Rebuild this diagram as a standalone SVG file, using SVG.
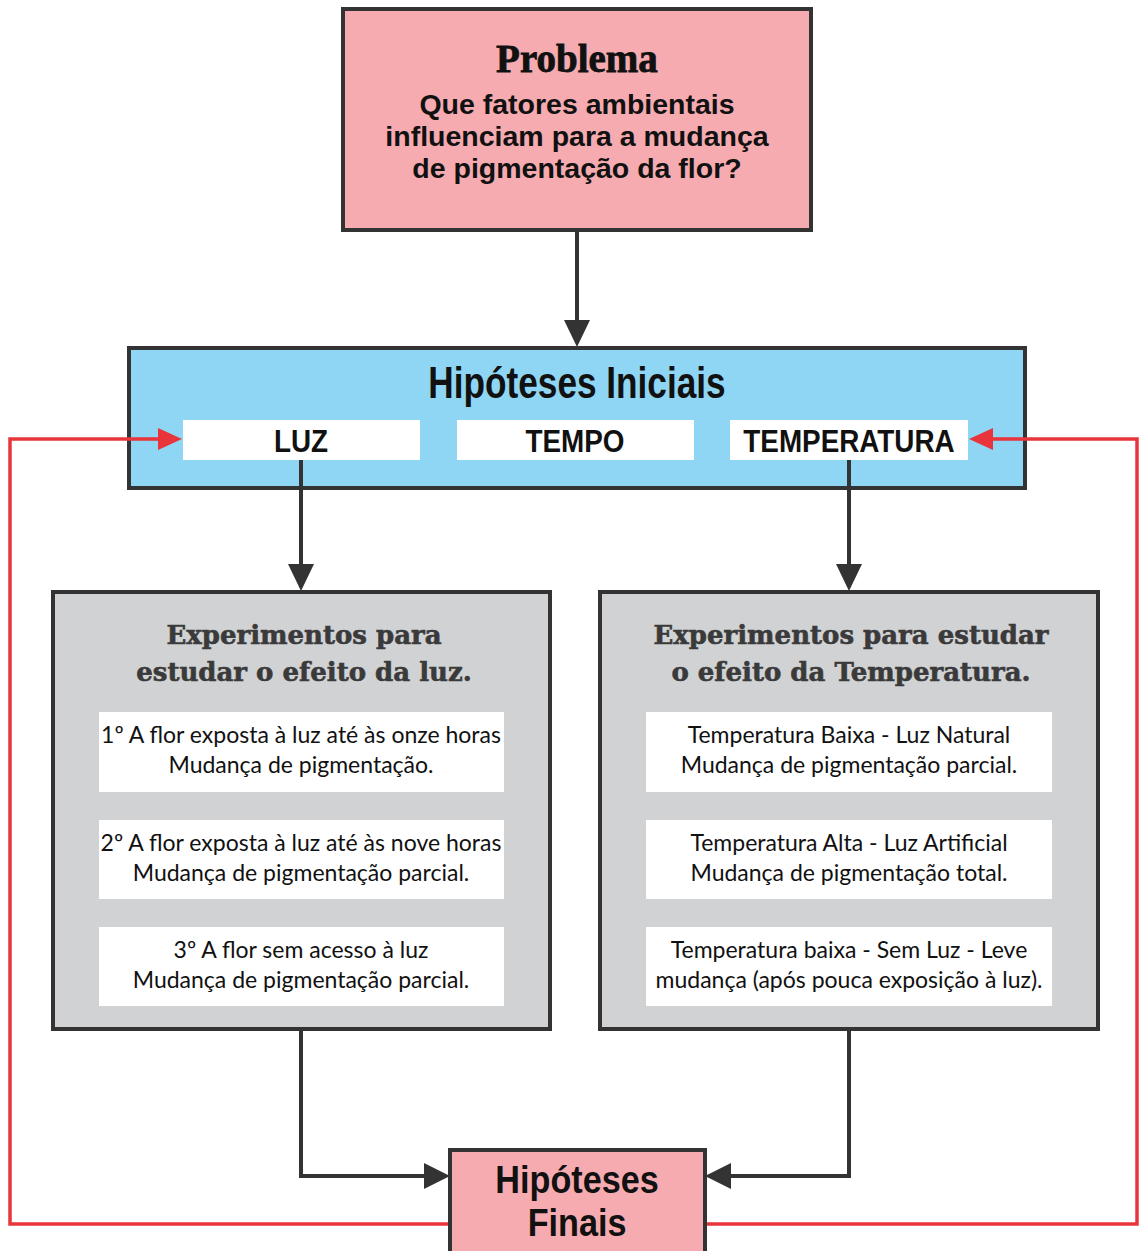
<svg xmlns="http://www.w3.org/2000/svg" width="1139" height="1251" viewBox="0 0 1139 1251">
<style>
.box{stroke:#333;stroke-width:4}
.pink{fill:#f6abb0}
.blue{fill:#8fd6f4}
.gray{fill:#d1d2d4}
.white{fill:#fff}
.cond{font-family:"Liberation Sans",Arial,sans-serif;font-weight:bold;fill:#111;text-anchor:middle}
.q{font-family:"Liberation Sans",Arial,sans-serif;font-weight:bold;font-size:28.5px;fill:#111;text-anchor:middle}
.slab{font-family:"DejaVu Serif",serif;font-weight:bold;font-size:26px;fill:#3a3a3a;stroke:#3a3a3a;stroke-width:0.6;text-anchor:middle}
.body{font-family:"Lato","Open Sans",sans-serif;font-size:23px;fill:#111;text-anchor:middle}
.conn{fill:none;stroke:#333;stroke-width:4}
.red{fill:none;stroke:#e8343a;stroke-width:3.5}
</style>
<g id="problema">
<rect class="box pink" x="343" y="9" width="468" height="221"/>
<text x="577" y="72" font-family="Liberation Serif,serif" font-weight="bold" font-size="39" fill="#111" stroke="#111" stroke-width="0.8" text-anchor="middle">Problema</text>
<text class="q" x="577" y="114">Que fatores ambientais</text>
<text class="q" x="577" y="146">influenciam para a mudança</text>
<text class="q" x="577" y="178">de pigmentação da flor?</text>
</g>
<g id="hipoteses-iniciais">
<rect class="box blue" x="129" y="348" width="896" height="140"/>
<text class="cond" font-size="44" transform="translate(577,398) scale(0.8,1)">Hipóteses Iniciais</text>
</g>
<g id="luz">
<rect class="white" x="183" y="420" width="237" height="40"/>
<text class="cond" font-size="32" transform="translate(301,452) scale(0.87,1)">LUZ</text>
</g>
<g id="tempo">
<rect class="white" x="457" y="420" width="237" height="40"/>
<text class="cond" font-size="32" transform="translate(575,452) scale(0.87,1)">TEMPO</text>
</g>
<g id="temperatura">
<rect class="white" x="730" y="420" width="238" height="40"/>
<text class="cond" font-size="32" transform="translate(849,452) scale(0.87,1)">TEMPERATURA</text>
</g>
<g id="exp-luz">
<rect class="box gray" x="53" y="592" width="497" height="437"/>
<text class="slab" x="304" y="644">Experimentos para</text>
<text class="slab" x="304" y="681">estudar o efeito da luz.</text>
<rect class="white" x="99" y="712" width="405" height="80"/>
<text class="body" x="301" y="743">1º A flor exposta à luz até às onze horas</text>
<text class="body" x="301" y="773">Mudança de pigmentação.</text>
<rect class="white" x="99" y="820" width="405" height="79"/>
<text class="body" x="301" y="851">2º A flor exposta à luz até às nove horas</text>
<text class="body" x="301" y="881">Mudança de pigmentação parcial.</text>
<rect class="white" x="99" y="927" width="405" height="79"/>
<text class="body" x="301" y="958">3º A flor sem acesso à luz</text>
<text class="body" x="301" y="988">Mudança de pigmentação parcial.</text>
</g>
<g id="exp-temperatura">
<rect class="box gray" x="600" y="592" width="498" height="437"/>
<text class="slab" x="851" y="644">Experimentos para estudar</text>
<text class="slab" x="851" y="681">o efeito da Temperatura.</text>
<rect class="white" x="646" y="712" width="406" height="80"/>
<text class="body" x="849" y="743">Temperatura Baixa - Luz Natural</text>
<text class="body" x="849" y="773">Mudança de pigmentação parcial.</text>
<rect class="white" x="646" y="820" width="406" height="79"/>
<text class="body" x="849" y="851">Temperatura Alta - Luz Artificial</text>
<text class="body" x="849" y="881">Mudança de pigmentação total.</text>
<rect class="white" x="646" y="927" width="406" height="79"/>
<text class="body" x="849" y="958">Temperatura baixa - Sem Luz - Leve</text>
<text class="body" x="849" y="988">mudança (após pouca exposição à luz).</text>
</g>
<g id="hipoteses-finais">
<rect class="box pink" x="450" y="1150" width="255" height="104"/>
<text class="cond" font-size="38" transform="translate(577,1193) scale(0.9,1)">Hipóteses</text>
<text class="cond" font-size="38" transform="translate(577,1236) scale(0.9,1)">Finais</text>
</g>
<g id="connectors">
<path class="conn" d="M577,231 V322"/><path d="M564,320 L577,347 L590,320 z" fill="#333"/>
<path class="conn" d="M301,460 V566"/><path d="M288,564 L301,591 L314,564 z" fill="#333"/>
<path class="conn" d="M849,460 V566"/><path d="M836,564 L849,591 L862,564 z" fill="#333"/>
<path class="conn" d="M301,1031 V1176 H426"/><path d="M424,1163 L450,1176 L424,1189 z" fill="#333"/>
<path class="conn" d="M849,1031 V1176 H729"/><path d="M731,1163 L705,1176 L731,1189 z" fill="#333"/>
<path class="red" d="M448,1224 H10 V439 H160"/><path d="M158,428 L182,439 L158,450 z" fill="#e8343a"/>
<path class="red" d="M707,1224 H1137 V439 H991"/><path d="M993,428 L969,439 L993,450 z" fill="#e8343a"/>
</g>
</svg>
